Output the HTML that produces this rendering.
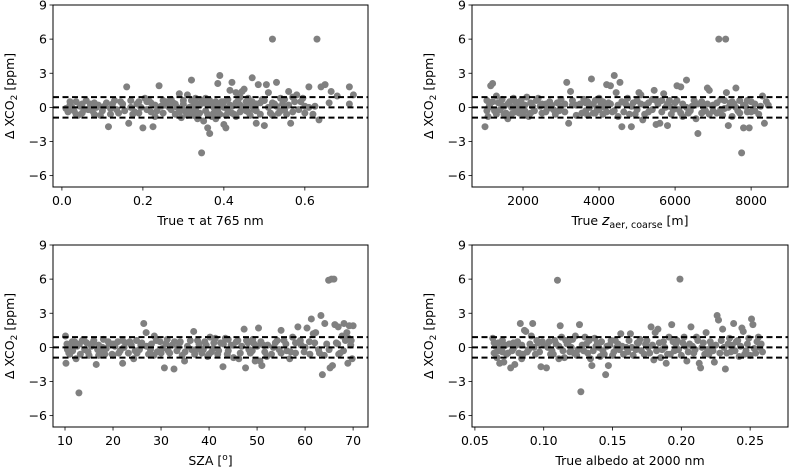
<!DOCTYPE html>
<html><head><meta charset="utf-8"><style>
html,body{margin:0;padding:0;background:#fff;}
svg{display:block;font-family:"DejaVu Sans","Liberation Sans",sans-serif;}
</style></head><body>
<svg id="fig" width="789" height="471" viewBox="0 0 789 471" xmlns="http://www.w3.org/2000/svg"></svg>
<script>
// ---- data ----
const yTicks = [-6, -3, 0, 3, 6, 9];
const thresholds = [0.9, 0, -0.9];
const tauTicks = [0.0, 0.2, 0.4, 0.6];
const tauTickLabels = ["0.0", "0.2", "0.4", "0.6"];
const zTicks = [2000, 4000, 6000, 8000];
const zTickLabels = ["2000", "4000", "6000", "8000"];
const szaTicks = [10, 20, 30, 40, 50, 60, 70];
const szaTickLabels = ["10", "20", "30", "40", "50", "60", "70"];
const albTicks = [0.05, 0.10, 0.15, 0.20, 0.25];
const albTickLabels = ["0.05", "0.10", "0.15", "0.20", "0.25"];

const tauPts = [[0.01,-0.1],[0.015,-0.4],[0.02,0.2],[0.03,-0.3],[0.035,0.5],[0.04,-0.7],[0.045,0.1],[0.05,-0.5],[0.06,0.6],[0.065,-0.2],[0.07,0.3],[0.08,-0.6],[0.09,0.2],[0.10,-0.3],[0.11,0.4],[0.115,-1.7],[0.12,-0.1],[0.13,0.6],[0.14,-0.5],[0.15,0.3],[0.16,1.8],[0.165,-1.4],[0.17,0.0],[0.18,-0.4],[0.19,0.5],[0.20,-1.8],[0.205,0.8],[0.21,-0.2],[0.22,0.4],[0.225,-1.7],[0.23,-0.8],[0.24,1.9],[0.245,0.1],[0.25,-0.5],[0.26,0.5],[0.27,-0.2],[0.28,0.3],[0.29,1.2],[0.295,-0.9],[0.30,0.6],[0.305,-0.4],[0.31,1.1],[0.315,0.0],[0.32,2.4],[0.325,-0.7],[0.33,0.4],[0.335,-1.0],[0.34,0.2],[0.345,-4.0],[0.35,-1.2],[0.355,0.8],[0.36,-1.8],[0.365,-2.3],[0.37,0.3],[0.375,-0.5],[0.38,-1.0],[0.385,2.1],[0.39,2.8],[0.395,0.5],[0.40,-1.5],[0.405,-1.8],[0.41,0.7],[0.415,1.5],[0.42,2.2],[0.425,-0.6],[0.43,1.3],[0.44,0.2],[0.445,1.4],[0.45,1.6],[0.455,-0.3],[0.46,0.8],[0.47,2.6],[0.475,-0.2],[0.48,-1.4],[0.485,2.0],[0.49,0.4],[0.50,-1.6],[0.505,2.0],[0.51,1.3],[0.515,-0.5],[0.52,6.0],[0.525,0.3],[0.53,2.2],[0.54,-0.3],[0.55,0.7],[0.56,1.4],[0.565,-1.4],[0.57,-0.4],[0.58,1.1],[0.59,0.5],[0.60,-0.5],[0.61,1.8],[0.62,-0.6],[0.625,0.1],[0.63,6.0],[0.635,-1.1],[0.64,1.8],[0.65,2.0],[0.66,0.4],[0.665,1.4],[0.68,1.0],[0.71,1.8],[0.71,0.3],[0.72,1.1],[0.02,0.5],[0.05,0.3],[0.08,0.4],[0.12,-0.6],[0.17,0.6],[0.19,-0.5],[0.23,0.2],[0.27,0.7],[0.28,-0.6],[0.30,-0.2],[0.32,-0.4],[0.33,0.8],[0.36,0.2],[0.38,0.5],[0.39,-0.6],[0.41,-0.3],[0.43,-0.8],[0.44,0.9],[0.46,-0.4],[0.48,0.3],[0.50,0.6],[0.52,-0.7],[0.54,0.8],[0.57,0.9],[0.035,-0.6],[0.095,-0.7],[0.145,0.5],[0.215,0.6],[0.255,0.2],[0.35,0.4],[0.37,-0.8],[0.42,0.1],[0.47,0.5],[0.53,0.1],[0.55,-0.2],[0.6,0.1],
[0.025,0.0],[0.055,-0.2],[0.075,-0.3],[0.085,0.0],[0.105,0.1],[0.125,0.3],[0.135,-0.2],[0.155,-0.3],[0.175,-0.6],[0.185,0.3],[0.195,0.0],[0.21,0.5],[0.22,-0.4],[0.235,-0.3],[0.25,0.6],[0.265,0.0],[0.275,0.4],[0.285,0.0],[0.29,-0.4],[0.30,0.3],[0.31,-0.7],[0.32,0.6],[0.325,0.1],[0.34,-0.5],[0.345,0.6],[0.355,-0.3],[0.36,-0.6],[0.365,0.6],[0.375,0.0],[0.385,-0.3],[0.39,0.2],[0.40,0.5],[0.405,-0.7],[0.415,0.2],[0.42,-0.5],[0.435,0.6],[0.44,-0.4],[0.45,0.0],[0.455,0.5],[0.465,-0.7],[0.47,0.1],[0.48,-0.3],[0.49,-0.6],[0.495,0.7],[0.51,0.0],[0.52,0.4],[0.535,-0.5],[0.545,0.3],[0.555,-0.6],[0.56,0.2],[0.575,0.5],[0.585,-0.2],[0.595,0.8],[0.61,0.0],[0.33,-0.2],[0.40,0.0],[0.43,0.4],[0.46,0.2]];

const zPts = [[1000,-1.7],[1050,0.6],[1080,-0.8],[1120,0.2],[1150,1.9],[1200,2.1],[1250,-0.3],[1300,1.0],[1350,0.4],[1400,-0.2],[1450,0.7],[1500,0.1],[1550,-0.5],[1600,-1.0],[1650,0.5],[1700,0.0],[1750,0.8],[1800,-0.4],[1850,0.3],[1900,-0.1],[1950,0.6],[2000,-0.6],[2050,0.2],[2100,0.9],[2150,-0.8],[2200,0.4],[2300,-0.3],[2400,0.8],[2450,0.1],[2500,-0.5],[2600,0.3],[2700,0.5],[2800,-0.2],[2900,0.4],[3000,0.1],[3100,-0.4],[3150,2.2],[3200,-1.4],[3250,1.4],[3300,0.2],[3400,-0.7],[3500,0.3],[3600,0.7],[3650,-0.3],[3700,0.5],[3800,2.5],[3850,-0.5],[3900,0.6],[3950,-0.1],[4000,0.8],[4100,-0.6],[4200,2.0],[4250,0.4],[4300,1.9],[4350,-0.4],[4400,2.8],[4450,1.3],[4500,-0.8],[4550,2.2],[4600,-1.7],[4700,0.3],[4800,-0.6],[4850,-1.7],[4900,0.4],[5000,-0.2],[5050,1.3],[5100,1.1],[5150,-1.1],[5200,0.2],[5300,-0.4],[5400,0.7],[5450,1.5],[5500,-1.5],[5550,0.3],[5600,-1.4],[5650,0.6],[5700,1.2],[5800,-1.6],[5850,0.1],[5900,-0.6],[6000,0.4],[6050,1.9],[6100,-0.2],[6150,1.8],[6200,0.3],[6300,2.4],[6350,-0.5],[6450,0.1],[6550,-1.0],[6600,-2.3],[6700,0.5],[6800,-0.3],[6850,1.7],[6900,1.5],[7000,0.2],[7100,-0.5],[7150,6.0],[7200,0.7],[7300,-0.1],[7330,6.0],[7350,1.3],[7400,-1.6],[7450,0.4],[7500,-0.8],[7600,1.7],[7650,-0.3],[7700,0.6],[7750,-4.0],[7800,-1.8],[7850,0.1],[7900,0.6],[7950,-1.8],[8000,-0.4],[8100,0.3],[8200,-0.6],[8300,1.0],[8350,-1.4],[8450,0.2],[1300,-0.6],[1700,-0.6],[2200,-0.5],[2600,-0.4],[3000,0.7],[3300,0.6],[3700,-0.7],[4050,0.3],[4600,0.5],[5000,0.6],[5300,0.4],[5750,0.0],[6200,-0.8],[6500,0.6],[6900,-0.6],[7250,-0.7],[7550,0.3],[8100,-0.3],[8400,0.5],[1100,0.0],[1950,0.2],[2850,-0.6],[4150,0.0],[4750,0.8],[5850,0.6],[6750,0.0],[7600,0.0],
[1050,-0.3],[1200,0.5],[1400,0.4],[1500,-0.6],[1600,0.3],[1800,0.5],[1900,-0.5],[2050,-0.3],[2250,0.1],[2350,0.6],[2500,0.3],[2650,-0.1],[2750,0.2],[2950,-0.3],[3100,0.3],[3400,0.2],[3550,-0.5],[3650,0.4],[3750,0.0],[3850,0.3],[3900,-0.5],[4000,-0.2],[4100,0.5],[4200,-0.4],[4300,0.3],[4400,-0.3],[4500,0.2],[4650,-0.4],[4850,0.1],[4950,-0.6],[5100,0.3],[5200,-0.6],[5400,-0.2],[5500,0.6],[5650,-0.4],[5800,0.3],[5950,-0.2],[6050,0.6],[6150,-0.5],[6300,0.0],[6400,-0.3],[6600,0.3],[6700,-0.5],[6850,0.3],[7000,-0.3],[7100,0.4],[7200,-0.2],[7300,0.6],[7400,0.0],[7500,0.5],[7700,-0.5],[7800,0.2],[7900,-0.4],[8000,0.5],[8250,0.1]];

const szaPts = [[10.1,1.0],[10.2,-1.4],[10.4,0.3],[10.8,-0.5],[11.2,0.2],[11.6,-0.3],[12.0,0.5],[12.3,-1.0],[12.9,-4.0],[13.2,-0.6],[13.6,0.6],[14.1,-0.2],[14.5,0.4],[15.0,-0.7],[15.5,0.1],[16.0,0.6],[16.5,-1.5],[17.0,0.2],[17.5,-0.4],[18.0,0.7],[18.6,-0.1],[19.2,0.3],[19.8,-0.6],[20.4,0.1],[21.0,0.5],[21.5,-0.3],[22.0,-1.4],[22.6,0.4],[23.2,-0.5],[23.8,0.2],[24.3,-1.0],[24.9,0.6],[25.5,-0.2],[26.0,0.4],[26.4,2.1],[26.9,1.3],[27.4,-0.6],[28.0,0.3],[28.6,1.0],[29.2,-0.4],[29.8,0.5],[30.3,-0.1],[30.7,-1.8],[31.3,0.7],[31.8,-0.5],[32.3,0.2],[32.7,-1.9],[33.3,-0.3],[33.9,0.4],[34.4,-0.7],[34.9,-1.2],[35.5,0.1],[36.1,0.6],[36.8,1.4],[37.3,-0.2],[37.9,0.3],[38.5,-0.5],[39.1,0.5],[39.7,-0.8],[40.2,0.9],[40.8,-0.1],[41.3,0.8],[41.8,-0.6],[42.4,0.4],[42.9,-1.7],[43.4,0.8],[44.0,-0.3],[44.6,0.2],[45.1,-0.9],[45.7,0.5],[46.2,-1.0],[46.8,0.1],[47.3,1.6],[47.6,-1.8],[48.1,0.4],[48.6,-0.5],[49.1,0.7],[49.6,-1.2],[50.0,0.1],[50.3,1.7],[50.6,-1.2],[51.0,-1.6],[51.6,-0.4],[52.2,0.2],[53.0,-0.6],[53.8,0.4],[54.6,-0.2],[55.0,1.5],[55.6,0.6],[56.2,-0.3],[56.8,-1.0],[57.4,0.9],[58.0,-0.5],[58.5,1.8],[59.2,0.2],[59.8,-0.4],[60.4,1.7],[60.9,0.5],[61.3,2.5],[61.7,1.2],[62.2,1.3],[62.8,-0.2],[63.3,2.8],[63.6,-2.4],[64.1,2.1],[64.5,0.3],[64.9,5.9],[65.2,-1.8],[65.5,6.0],[65.7,-1.6],[66.0,6.0],[66.2,2.0],[66.5,0.4],[66.9,1.8],[67.3,-0.5],[67.7,1.0],[68.1,2.1],[68.4,0.6],[68.7,1.3],[68.9,-1.4],[69.2,1.9],[69.5,0.2],[69.8,-1.0],[70.0,1.9],[11.0,-0.6],[14.0,0.6],[17.0,-0.7],[20.0,-0.7],[22.0,0.6],[25.0,-0.5],[28.5,-0.7],[31.0,0.3],[34.0,0.5],[37.0,-0.6],[40.5,-0.4],[43.0,0.3],[46.0,0.6],[49.0,-0.3],[52.0,-0.8],[55.0,-0.5],[58.0,0.4],[61.0,-0.6],[64.0,-0.7],[67.0,-0.6],[69.0,0.8],[27.0,0.1],[38.0,0.0],[44.0,0.7],
[10.5,-0.2],[11.5,0.5],[12.5,0.1],[13.0,0.3],[14.8,-0.4],[15.8,0.4],[16.8,-0.2],[17.8,0.0],[18.3,-0.6],[19.0,0.5],[20.0,0.3],[21.2,-0.5],[22.3,0.0],[23.5,0.5],[24.6,-0.3],[25.8,0.2],[27.8,-0.2],[29.0,0.6],[30.0,-0.5],[31.5,-0.3],[32.8,0.5],[33.6,0.0],[35.0,-0.4],[36.4,-0.2],[37.6,0.6],[38.8,-0.2],[39.4,0.2],[40.0,-0.6],[41.0,0.4],[42.0,-0.3],[43.8,-0.6],[45.0,0.2],[46.5,-0.5],[47.8,0.6],[48.3,-0.2],[49.4,0.3],[50.8,0.5],[51.3,0.2],[53.4,0.0],[54.2,0.6],[56.0,0.3],[57.0,-0.4],[59.0,0.6],[60.0,0.0],[62.0,0.4],[63.0,-0.5],[65.0,-0.2],[66.8,0.3],[68.0,-0.3],[69.6,0.6]];

const albPts = [[0.063,0.8],[0.064,-0.5],[0.065,0.1],[0.066,-0.9],[0.067,0.4],[0.068,-1.4],[0.069,-0.2],[0.070,0.6],[0.071,-1.3],[0.072,0.2],[0.073,-0.6],[0.075,0.3],[0.076,-1.8],[0.077,-0.3],[0.079,-1.5],[0.080,0.2],[0.082,-0.5],[0.083,2.1],[0.084,-1.0],[0.086,1.5],[0.087,1.4],[0.088,-0.4],[0.090,0.3],[0.091,1.0],[0.092,2.1],[0.094,-0.6],[0.096,0.4],[0.098,-1.7],[0.100,0.2],[0.102,-1.8],[0.104,0.5],[0.106,-0.3],[0.108,0.6],[0.110,5.9],[0.111,-1.0],[0.112,1.9],[0.113,0.9],[0.115,-0.9],[0.117,0.3],[0.119,-0.4],[0.121,0.7],[0.123,1.0],[0.125,-0.2],[0.126,2.0],[0.127,-3.9],[0.128,0.2],[0.130,0.9],[0.132,-0.5],[0.134,-1.0],[0.135,-1.6],[0.137,0.8],[0.139,0.4],[0.141,-0.8],[0.143,-0.3],[0.145,-2.4],[0.146,0.1],[0.147,-1.6],[0.149,0.6],[0.151,-0.4],[0.154,0.3],[0.156,1.2],[0.158,-0.6],[0.160,0.0],[0.163,1.2],[0.165,-0.7],[0.168,0.4],[0.171,-0.3],[0.174,0.3],[0.177,-0.5],[0.178,1.8],[0.180,-1.1],[0.181,1.3],[0.183,1.6],[0.185,-0.9],[0.187,0.5],[0.189,-1.4],[0.191,0.9],[0.193,2.0],[0.195,-0.3],[0.197,0.6],[0.199,6.0],[0.200,-0.7],[0.202,0.9],[0.204,-1.2],[0.206,0.3],[0.207,1.8],[0.209,-0.5],[0.211,0.9],[0.213,-1.4],[0.214,-1.8],[0.216,0.4],[0.218,1.3],[0.220,-0.6],[0.222,0.2],[0.224,-1.3],[0.226,2.8],[0.227,2.4],[0.229,0.6],[0.230,1.6],[0.232,-1.9],[0.234,0.3],[0.236,-0.4],[0.238,2.1],[0.240,0.5],[0.242,-0.8],[0.244,1.7],[0.245,1.4],[0.247,-0.3],[0.249,0.8],[0.251,2.5],[0.252,2.0],[0.254,-0.5],[0.256,0.9],[0.258,0.3],[0.259,-0.4],[0.070,-0.4],[0.078,0.4],[0.085,-0.6],[0.095,0.6],[0.105,-0.6],[0.118,0.5],[0.124,-0.7],[0.138,0.1],[0.150,-0.7],[0.162,0.6],[0.170,0.7],[0.176,0.0],[0.186,-0.2],[0.196,0.3],[0.203,0.1],[0.212,0.6],[0.219,-0.2],[0.228,-0.5],[0.235,0.8],[0.243,0.1],[0.250,-0.7],[0.257,0.0],[0.066,0.2],[0.109,0.3],[0.153,0.0],[0.192,-0.6],
[0.064,0.4],[0.067,-0.3],[0.071,0.1],[0.074,-0.5],[0.078,-0.1],[0.081,0.5],[0.084,0.2],[0.089,-0.2],[0.093,0.0],[0.097,-0.4],[0.099,0.5],[0.103,0.0],[0.107,-0.6],[0.111,0.1],[0.114,-0.3],[0.116,0.6],[0.120,0.0],[0.122,-0.5],[0.129,-0.3],[0.131,0.3],[0.133,0.6],[0.136,-0.3],[0.140,0.0],[0.142,0.5],[0.144,-0.6],[0.148,0.2],[0.152,0.6],[0.155,-0.2],[0.157,0.1],[0.161,-0.4],[0.164,0.0],[0.167,-0.2],[0.169,0.4],[0.173,-0.6],[0.175,0.6],[0.179,0.2],[0.182,-0.3],[0.184,0.4],[0.188,0.0],[0.190,-0.6],[0.194,0.5],[0.198,-0.2],[0.201,0.4],[0.205,-0.4],[0.208,0.1],[0.210,-0.2],[0.215,0.0],[0.217,-0.6],[0.221,0.5],[0.223,-0.3],[0.225,0.2],[0.231,0.0],[0.233,-0.5],[0.237,0.2],[0.239,-0.3],[0.241,0.6],[0.246,-0.6],[0.248,0.3],[0.253,-0.1],[0.255,0.5]];

// ---- drawing ----
const svg = document.getElementById('fig');
const NS = 'http://www.w3.org/2000/svg';
function mk(tag, attrs, parent) {
  const el = document.createElementNS(NS, tag);
  for (const k in attrs) el.setAttribute(k, attrs[k]);
  (parent || svg).appendChild(el);
  return el;
}
const YMIN = -7, YMAX = 9;

function panel(cfg) {
  const g = mk('g', {});
  
  
  const L = cfg.left, R = cfg.right, T = cfg.top, B = cfg.bottom;
  const sx = v => L + (v - cfg.xmin) / (cfg.xmax - cfg.xmin) * (R - L);
  const sy = v => B - (v - YMIN) / (YMAX - YMIN) * (B - T);
  const pg = mk('g', {}, g);
  
  
  cfg.pts.forEach(p => {
    const c = mk('circle', {cx: sx(p[0]), cy: sy(p[1]), r: 3.5, fill: '#808080'}, pg);
    
    
  });
  thresholds.forEach(t => {
    const l = mk('line', {x1: L, x2: R, y1: sy(t), y2: sy(t), stroke: '#000', 'stroke-width': 2, 'stroke-dasharray': '6,3.5'}, g);
    
    
  });
  const f = mk('rect', {x: L, y: T, width: R - L, height: B - T, fill: 'none', stroke: '#000', 'stroke-width': 1}, g);
  
  
  yTicks.forEach(v => {
    const y = sy(v);
    mk('line', {x1: L - 3.5, x2: L, y1: y, y2: y, stroke: '#000', 'stroke-width': 0.8}, g);
    const t = mk('text', {x: L - 6, y: y + 4.5, 'text-anchor': 'end', 'font-size': 12.5, fill: '#000'}, g);
    
    
    t.textContent = v < 0 ? '\u2212' + Math.abs(v) : String(v);
  });
  cfg.xticks.forEach((v, i) => {
    const x = sx(v);
    mk('line', {x1: x, x2: x, y1: B, y2: B + 3.5, stroke: '#000', 'stroke-width': 0.8}, g);
    const t = mk('text', {x: x, y: B + 18, 'text-anchor': 'middle', 'font-size': 12.5, fill: '#000'}, g);
    
    
    t.textContent = cfg.xlabels[i];
  });
  const cy = (T + B) / 2;
  const yl = mk('text', {x: cfg.ylabX, y: cy, 'text-anchor': 'middle', 'font-size': 12.5, transform: `rotate(-90 ${cfg.ylabX} ${cy})`}, g);
  
  
  yl.innerHTML = '\u0394 XCO<tspan font-size="9" dy="3">2</tspan><tspan dy="-3"> [ppm]</tspan>';
  const xl = mk('text', {x: (L + R) / 2, y: B + 38, 'text-anchor': 'middle', 'font-size': 12.5}, g);
  
  
  xl.innerHTML = cfg.xtitle;
}

panel({name: 'panel-tau', left: 53, right: 368, top: 5, bottom: 187, xmin: -0.022, xmax: 0.756, pts: tauPts, xticks: tauTicks, xlabels: tauTickLabels, ylabX: 14, xtitle: 'True \u03C4 at 765 nm'});
panel({name: 'panel-z-aer', left: 472, right: 788, top: 5, bottom: 187, xmin: 658, xmax: 8970, pts: zPts, xticks: zTicks, xlabels: zTickLabels, ylabX: 433, xtitle: 'True <tspan font-style="italic" font-size="14">z</tspan><tspan font-size="9.5" dy="3">aer, coarse</tspan><tspan dy="-3"> [m]</tspan>'});
panel({name: 'panel-sza', left: 53, right: 368, top: 245, bottom: 427, xmin: 7.5, xmax: 73.1, pts: szaPts, xticks: szaTicks, xlabels: szaTickLabels, ylabX: 14, xtitle: 'SZA [<tspan font-size="9" dy="-5">o</tspan><tspan dy="5">]</tspan>'});
panel({name: 'panel-albedo', left: 472, right: 788, top: 245, bottom: 427, xmin: 0.0479, xmax: 0.2775, pts: albPts, xticks: albTicks, xlabels: albTickLabels, ylabX: 433, xtitle: 'True albedo at 2000 nm'});
</script>
</body></html>
